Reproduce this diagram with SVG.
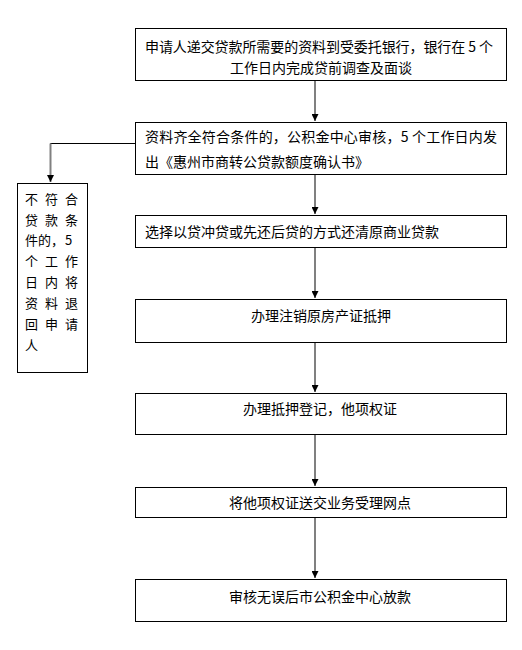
<svg xmlns="http://www.w3.org/2000/svg" width="522" height="650" viewBox="0 0 522 650">
<style>
.box{fill:#fff;stroke:#000;stroke-width:1}
text{font-family:"Noto Sans CJK SC","Noto Sans",sans-serif;font-size:14px;fill:#000}
.c{text-anchor:middle}
.s{font-size:13px}
.v{stroke:#808080;stroke-width:2;fill:none}
.h{stroke:#000;stroke-width:1;fill:none}
</style>
<defs>
<marker id="ah" markerWidth="8" markerHeight="7" refX="7" refY="3.5" orient="auto" markerUnits="userSpaceOnUse">
<path d="M0,0 L7,3.5 L0,7 Z" fill="#000"/>
</marker>
</defs>
<rect width="522" height="650" fill="#fff"/>
<g id="connectors">
<line class="v" x1="315" y1="80" x2="315" y2="121" marker-end="url(#ah)"/>
<line class="v" x1="315" y1="174" x2="315" y2="214" marker-end="url(#ah)"/>
<line class="v" x1="315" y1="247" x2="315" y2="298" marker-end="url(#ah)"/>
<line class="v" x1="315" y1="342" x2="315" y2="392" marker-end="url(#ah)"/>
<line class="v" x1="315" y1="434" x2="315" y2="486" marker-end="url(#ah)"/>
<line class="v" x1="315" y1="517" x2="315" y2="578" marker-end="url(#ah)"/>
<polyline class="h" points="135.5,143.5 50.5,143.5 50.5,150"/>
<line class="v" x1="50.5" y1="143.5" x2="50.5" y2="182" marker-end="url(#ah)"/>
</g>
<g id="node1">
<rect class="box" x="135.5" y="28.5" width="371" height="52"/>
<text x="145" y="52" textLength="348" lengthAdjust="spacing">申请人递交贷款所需要的资料到受委托银行，银行在 5 个</text>
<text class="c" x="321" y="73">工作日内完成贷前调查及面谈</text>
</g>
<g id="node2">
<rect class="box" x="135.5" y="122.5" width="371" height="52"/>
<text x="145" y="141.5" textLength="352" lengthAdjust="spacing">资料齐全符合条件的，公积金中心审核，5 个工作日内发</text>
<text x="145" y="166.5">出《惠州市商转公贷款额度确认书》</text>
</g>
<g id="node-reject">
<rect class="box" x="17.5" y="183.5" width="70" height="189"/>
<text class="s" x="25 45 65" y="204">不符合</text>
<text class="s" x="25 45 65" y="225">贷款条</text>
<text class="s" x="25 38 51 65" y="245">件的，5</text>
<text class="s" x="25 45 65" y="266">个工作</text>
<text class="s" x="25 45 65" y="287">日内将</text>
<text class="s" x="25 45 65" y="308">资料退</text>
<text class="s" x="25 45 65" y="329">回申请</text>
<text class="s" x="25" y="350">人</text>
</g>
<g id="node3">
<rect class="box" x="135.5" y="215.5" width="371" height="32"/>
<text x="145" y="237">选择以贷冲贷或先还后贷的方式还清原商业贷款</text>
</g>
<g id="node4">
<rect class="box" x="135.5" y="299.5" width="371" height="43"/>
<text class="c" x="321" y="321">办理注销原房产证抵押</text>
</g>
<g id="node5">
<rect class="box" x="135.5" y="393.5" width="371" height="41"/>
<text class="c" x="320" y="414">办理抵押登记，他项权证</text>
</g>
<g id="node6">
<rect class="box" x="135.5" y="487.5" width="371" height="30"/>
<text class="c" x="320" y="508">将他项权证送交业务受理网点</text>
</g>
<g id="node7">
<rect class="box" x="135.5" y="579.5" width="371" height="42"/>
<text class="c" x="320" y="602">审核无误后市公积金中心放款</text>
</g>
</svg>
